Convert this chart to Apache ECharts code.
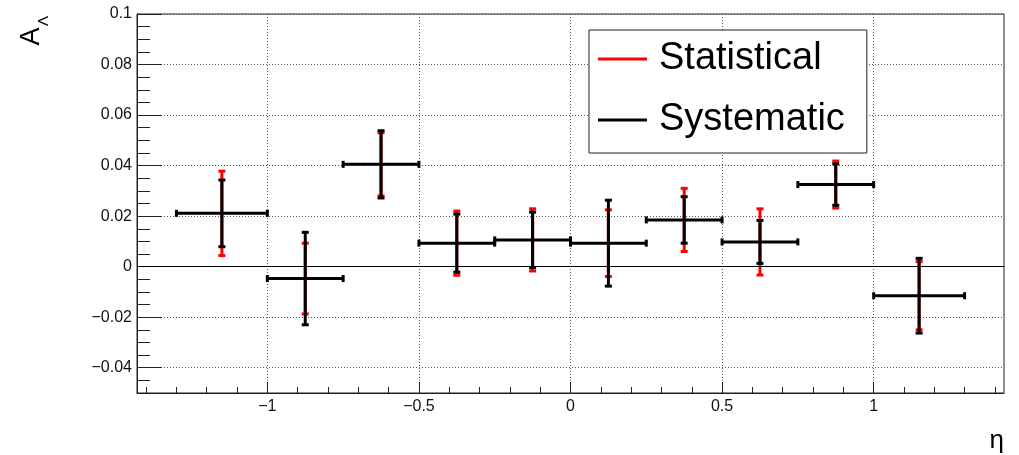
<!DOCTYPE html>
<html>
<head>
<meta charset="utf-8">
<script src="https://cdn.jsdelivr.net/npm/echarts@6/dist/echarts.min.js"></script>
<style>html,body{margin:0;padding:0;background:#fff}#c{width:1019px;height:455px}</style>
</head>
<body>
<div id="c"></div>
<script>
// ---- data ----
const etaCenter = [-1.15, -0.875, -0.625, -0.375, -0.125, 0.125, 0.375, 0.625, 0.875, 1.15];
const binLow    = [-1.3, -1.0, -0.75, -0.5, -0.25, 0.0, 0.25, 0.5, 0.75, 1.0];
const binHigh   = [-1.0, -0.75, -0.5, -0.25, 0.0, 0.25, 0.5, 0.75, 1.0, 1.3];
const asym      = [0.0211, -0.0047, 0.0405, 0.0093, 0.0106, 0.0093, 0.0185, 0.0098, 0.0325, -0.0115];
const statErr   = [0.0167, 0.0140, 0.0125, 0.0127, 0.0123, 0.0132, 0.0125, 0.0131, 0.0093, 0.0135];
const sysErr    = [0.0132, 0.0183, 0.0133, 0.0115, 0.0110, 0.0170, 0.0092, 0.0085, 0.0082, 0.0148];

const xRange = [-1.43, 1.43];
const yRange = [-0.05, 0.1];
const xMajorTicks = [-1, -0.5, 0, 0.5, 1];
const yMajorTicks = [-0.04, -0.02, 0, 0.02, 0.04, 0.06, 0.08, 0.1];
const xMinorTicks = [];
for (let k = -14; k <= 14; k++) xMinorTicks.push(k / 10);
const yMinorTicks = [];
for (let k = -9; k <= 19; k++) yMinorTicks.push(k / 200);

const FONT = 'Liberation Sans, Arial, Helvetica, sans-serif';
const fmt = v => String(+(+v).toFixed(3)).replace('-', '\u2212');

const statData = etaCenter.map((x, i) => [x, asym[i], statErr[i], binLow[i], binHigh[i]]);
const sysData  = etaCenter.map((x, i) => [x, asym[i], sysErr[i], binLow[i], binHigh[i]]);

function makeRender(withHoriz) {
  return function (params, api) {
    const x = api.value(0), y = api.value(1), e = api.value(2);
    const t = api.coord([x, y + e]);
    const b = api.coord([x, y - e]);
    const color = api.visual('color');
    const st = () => ({ stroke: color, lineWidth: 3 });
    const cap = 3.5;
    const kids = [
      { type: 'line', shape: { x1: t[0], y1: t[1], x2: b[0], y2: b[1] }, style: st() },
      { type: 'line', shape: { x1: t[0] - cap, y1: t[1], x2: t[0] + cap, y2: t[1] }, style: st() },
      { type: 'line', shape: { x1: b[0] - cap, y1: b[1], x2: b[0] + cap, y2: b[1] }, style: st() }
    ];
    if (withHoriz) {
      const l = api.coord([api.value(3), y]);
      const r = api.coord([api.value(4), y]);
      kids.push({ type: 'line', shape: { x1: l[0], y1: l[1], x2: r[0], y2: r[1] }, style: st() });
      kids.push({ type: 'line', shape: { x1: l[0], y1: l[1] - cap, x2: l[0], y2: l[1] + cap }, style: st() });
      kids.push({ type: 'line', shape: { x1: r[0], y1: r[1] - cap, x2: r[0], y2: r[1] + cap }, style: st() });
    }
    return { type: 'group', children: kids };
  };
}

const chart = echarts.init(document.getElementById('c'), null, { renderer: 'canvas' });
chart.setOption({
  animation: false,
  backgroundColor: '#fff',
  grid: { left: 137, right: 15, top: 14, bottom: 62, show: true, borderColor: '#222', borderWidth: 1, backgroundColor: 'transparent' },
  xAxis: [
    {
      type: 'value', min: xRange[0], max: xRange[1], position: 'bottom',
      axisLine: { onZero: false, lineStyle: { color: '#222', width: 1 } },
      axisTick: { inside: true, length: 11, customValues: xMajorTicks, lineStyle: { color: '#222', width: 1 } },
      axisLabel: { customValues: xMajorTicks, formatter: fmt, color: '#111', fontSize: 16, fontFamily: FONT, margin: 6 },
      splitLine: { show: true, lineStyle: { color: '#555', width: 1, type: [1, 2] } }
    },
    {
      type: 'value', min: xRange[0], max: xRange[1], position: 'bottom',
      axisLine: { show: false, onZero: false },
      axisTick: { inside: true, length: 6, customValues: xMinorTicks, lineStyle: { color: '#222', width: 1 } },
      axisLabel: { show: false },
      splitLine: { show: false }
    }
  ],
  yAxis: [
    {
      type: 'value', min: yRange[0], max: yRange[1], position: 'left',
      axisLine: { show: true, onZero: false, lineStyle: { color: '#222', width: 1 } },
      axisTick: { show: true, inside: true, length: 25, customValues: yMajorTicks, lineStyle: { color: '#222', width: 1 } },
      axisLabel: { customValues: yMajorTicks, formatter: fmt, color: '#111', fontSize: 16, fontFamily: FONT, margin: 5 },
      splitLine: { show: true, lineStyle: { color: '#555', width: 1, type: [1, 2] } }
    },
    {
      type: 'value', min: yRange[0], max: yRange[1], position: 'left',
      axisLine: { show: false, onZero: false },
      axisTick: { show: true, inside: true, length: 13, customValues: yMinorTicks, lineStyle: { color: '#222', width: 1 } },
      axisLabel: { show: false },
      splitLine: { show: false }
    }
  ],
  legend: {
    orient: 'vertical', left: 589, top: 30,
    backgroundColor: '#fff', borderColor: '#222', borderWidth: 1, borderRadius: 0,
    padding: [10, 22, 14, 9], itemGap: 23, itemWidth: 49, itemHeight: 3, icon: 'rect',
    textStyle: { fontSize: 38, color: '#000', fontFamily: FONT, padding: [0, 0, 0, 7] },
    data: ['Statistical', 'Systematic'],
    selectedMode: false
  },
  graphic: [
    { type: 'text', x: 32, y: 36.5, rotation: Math.PI / 2, style: { text: 'A', font: '27px ' + FONT, fill: '#000', align: 'center', verticalAlign: 'middle' } },
    { type: 'text', x: 44, y: 21, rotation: Math.PI / 2, style: { text: '\u039B', font: '15px ' + FONT, fill: '#000', align: 'center', verticalAlign: 'middle' } },
    { type: 'text', x: 1004, y: 454, style: { text: '\u03B7', font: '26px ' + FONT, fill: '#000', align: 'right', verticalAlign: 'bottom' } }
  ],
  series: [
    {
      name: 'Statistical', type: 'custom', xAxisIndex: 0, yAxisIndex: 0,
      itemStyle: { color: '#ff0000' },
      renderItem: makeRender(false),
      encode: { x: 0, y: 1 },
      data: statData,
      z: 2,
      markLine: {
        silent: true, symbol: 'none', label: { show: false },
        lineStyle: { color: '#000', width: 1, type: 'solid' },
        data: [{ yAxis: 0 }]
      }
    },
    {
      name: 'Systematic', type: 'custom', xAxisIndex: 0, yAxisIndex: 0,
      itemStyle: { color: '#000000' },
      renderItem: makeRender(true),
      encode: { x: 0, y: 1 },
      data: sysData,
      z: 3
    }
  ]
});
</script>
</body>
</html>
